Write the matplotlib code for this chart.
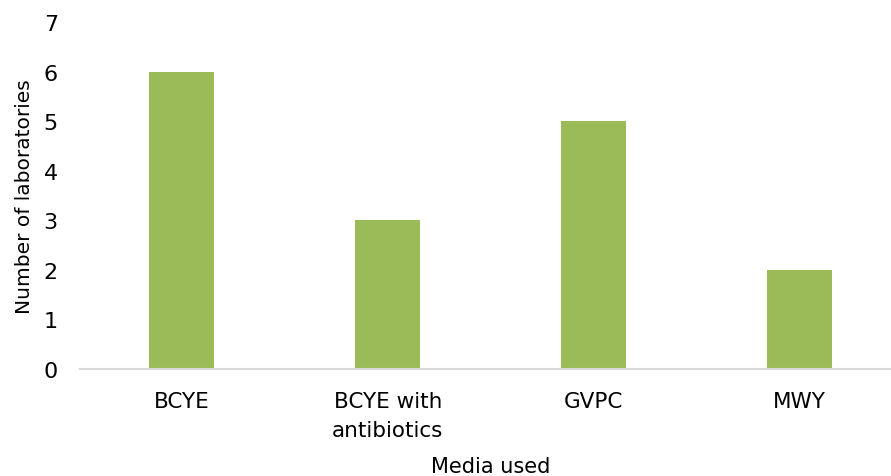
import numpy as np
import matplotlib.pyplot as plt

# Data
media = ['BCYE', 'BCYE with\nantibiotics', 'GVPC', 'MWY']
labs = [6, 3, 5, 2]
yticks = [0, 1, 2, 3, 4, 5, 6, 7]

plt.rcParams['font.family'] = 'DejaVu Sans'

fig = plt.figure(figsize=(8.91, 4.77), dpi=100)
ax = fig.add_axes([0.0898, 0.2243, 0.909, 0.7275])

x = np.arange(len(media))
ax.bar(x, labs, width=0.315, color='#9BBB59', zorder=2)

ax.set_xlim(-0.495, 3.44)
ax.set_ylim(0, 7)
ax.set_yticks(yticks)
ax.set_xticks(x)
ax.set_xticklabels(media, fontsize=15.5, linespacing=1.55, va='top')
ax.tick_params(axis='y', length=0, pad=16, labelsize=16)
ax.tick_params(axis='x', length=0, pad=16)

for s in ['top', 'right', 'left']:
    ax.spines[s].set_visible(False)
ax.spines['bottom'].set_color('#D9D9D9')
ax.spines['bottom'].set_linewidth(1.5)

ax.set_xlabel('Media used', fontsize=15, va='top')
ax.xaxis.set_label_coords(0.507, -0.252)
ax.set_ylabel('Number of laboratories', fontsize=14.5)
ax.yaxis.set_label_coords(-0.057, 0.5)

fig.savefig('out.png', dpi=100)
